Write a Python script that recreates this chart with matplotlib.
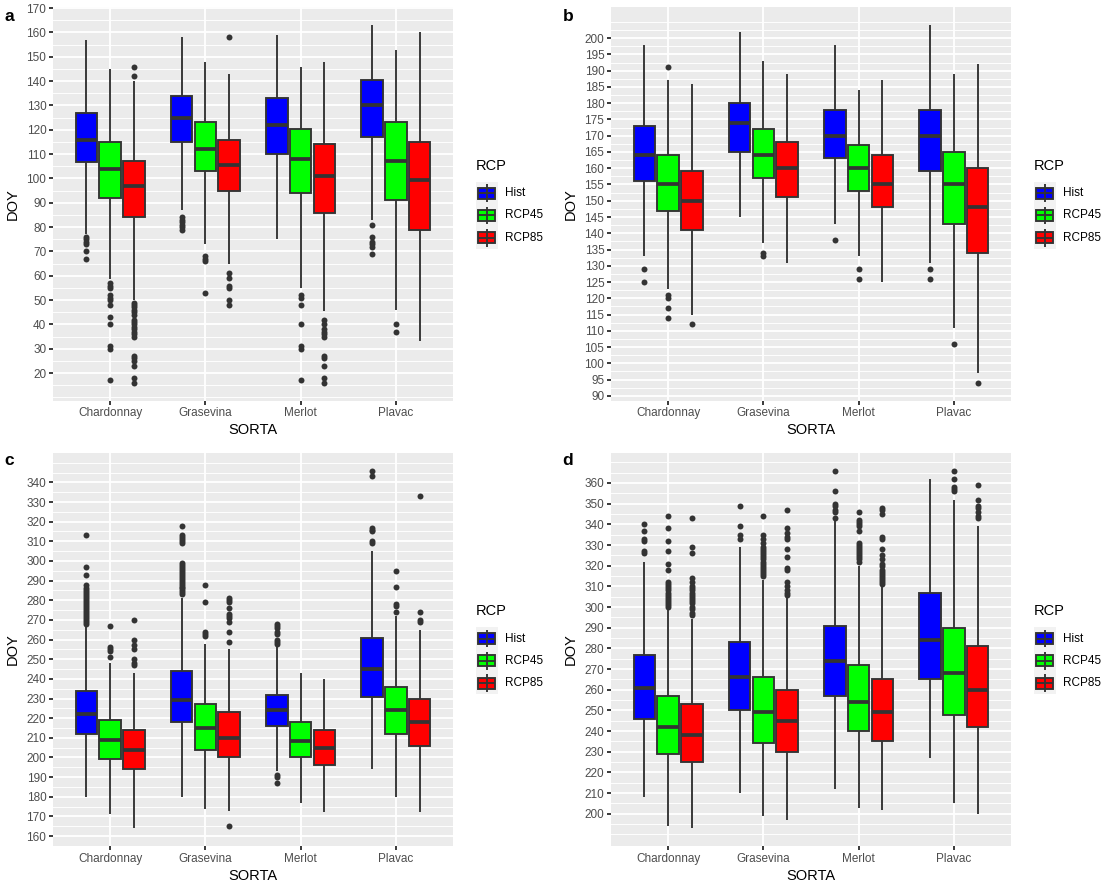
import numpy as np
import matplotlib
matplotlib.use('Agg')
import matplotlib.pyplot as plt
from matplotlib.patches import Rectangle

plt.rcParams['font.family'] = ['Liberation Sans', 'DejaVu Sans']

SORTS = ['Chardonnay', 'Grasevina', 'Merlot', 'Plavac']
RCPS = ['Hist', 'RCP45', 'RCP85']
COLORS = ['#0000FF', '#00FF00', '#FF0000']

# each list: one row per sort, columns Hist, RCP45, RCP85
# --- panel a
a_q1 = [[106.7, 92, 84], [115, 103, 95], [110, 94, 86], [117, 91, 79]]
a_med = [[116, 104, 97], [125, 112, 105.5], [122, 108, 101], [130, 107, 99.5]]
a_q3 = [[127, 115, 107], [134, 123, 116], [133, 120.3, 114], [140.3, 123, 115]]
a_lo = [[77, 58.5, 50], [87, 73, 65], [75, 55, 45.5], [83, 46, 33]]
a_hi = [[157, 145, 140], [158, 148, 143], [159, 146, 148], [163, 153, 160]]
a_out = [
    [[76, 75, 74, 73, 70, 67],
     [57, 56, 55, 52, 51, 50, 48, 43, 40, 31, 30, 17],
     [146, 142, 49, 48, 47, 46, 45, 44, 42, 41, 40, 39, 38, 37, 36, 35, 27, 26, 25, 23, 18, 16]],
    [[84, 83, 82, 81, 80, 79], [68, 67, 66, 53], [158, 61, 59, 56, 55, 50, 48]],
    [[], [52, 51, 48, 40, 31, 30, 17], [42, 40, 38, 37, 36, 35, 27, 26, 23, 18, 16]],
    [[81, 76, 74, 73, 72, 69], [40, 37], []],
]
a_ticks = list(range(20, 171, 10))

# --- panel b
b_q1 = [[156, 147, 141], [165, 157, 151], [163, 153, 148], [159, 143, 134]]
b_med = [[164, 155, 150], [174, 164, 160], [170, 160, 155], [170, 155, 148]]
b_q3 = [[173, 164, 159], [180, 172, 168], [178, 167, 164], [178, 165, 160]]
b_lo = [[133, 123, 115], [145, 137, 131], [143, 133, 125], [131, 111, 97]]
b_hi = [[198, 187, 186], [202, 193, 189], [198, 184, 187], [204, 189, 192]]
b_out = [
    [[129, 125], [191, 121, 120, 117, 114], [112]],
    [[], [134, 133], []],
    [[138], [129, 126], []],
    [[129, 126], [106], [94]],
]
b_ticks = list(range(90, 201, 5))

# --- panel c
c_q1 = [[212, 199, 194], [218, 204, 200], [216, 200, 196], [231, 212, 206]]
c_med = [[222, 209, 204], [229, 215, 210], [224, 208.5, 205], [245, 224, 218]]
c_q3 = [[234, 219, 214], [244, 227, 223], [232, 218, 214], [261, 236, 230]]
c_lo = [[180, 171, 164], [180, 174, 173], [193, 177, 172], [194, 180, 172]]
c_hi = [[267, 248, 243], [281, 258, 255], [256, 243, 240], [305, 272, 265]]
c_out = [
    [[313, 297, 293, 288, 286, 285, 284, 283, 282, 281, 280, 279, 278, 277, 276,
      275, 274, 273, 272, 271, 270, 269, 268],
     [267, 256, 255, 254, 251],
     [270, 260, 257, 255, 250, 248, 247]],
    [[318, 313, 312, 311, 310, 309, 299, 298, 297, 296, 295, 294, 293, 292, 291,
      290, 289, 288, 287, 286, 285, 284, 283],
     [288, 279, 264, 263, 262],
     [281, 280, 279, 276, 273, 272, 271, 269, 264, 259, 165]],
    [[268, 267, 266, 264, 263, 260, 259, 258, 191, 190, 187], [], []],
    [[346, 343, 317, 316, 315, 310, 309], [295, 287, 278, 277, 274], [333, 274, 270, 269]],
]
c_ticks = list(range(160, 341, 10))

# --- panel d
d_q1 = [[246, 229, 225], [250, 234, 230], [257, 240, 235], [265, 248, 242]]
d_med = [[261, 242, 238], [266, 249, 245], [274, 254, 249], [284, 268, 260]]
d_q3 = [[277, 257, 253], [283, 266, 260], [291, 272, 265], [307, 290, 281]]
d_lo = [[208, 194, 193], [210, 199, 197], [212, 203, 202], [227, 205, 200]]
d_hi = [[322, 299, 294], [329, 313, 305], [342, 320, 310], [362, 352, 339]]
d_out = [
    [[340, 337, 333, 332, 327, 326],
     [344, 338, 332, 327, 321, 318, 312, 311, 310, 309, 308, 307, 306, 305, 304,
      303, 302, 301, 300],
     [343, 329, 326, 314, 312, 310, 309, 308, 307, 306, 305, 304, 303, 302, 300,
      299, 297, 296]],
    [[349, 339, 335, 333],
     [344, 335, 333, 331, 329, 328, 327, 326, 325, 324, 323, 322, 321, 320, 319,
      318, 317, 316, 315],
     [347, 338, 336, 334, 333, 328, 324, 319, 318, 312, 310, 308, 307, 306]],
    [[366, 356, 350, 349, 347, 346, 343],
     [346, 342, 341, 340, 339, 337, 331, 330, 329, 328, 327, 326, 325, 324, 323, 322],
     [348, 347, 345, 334, 333, 328, 325, 323, 321, 320, 318, 317, 316, 315, 314,
      313, 312, 311]],
    [[], [366, 362, 358, 357, 356], [359, 352, 349, 348, 346, 344, 343]],
]
d_ticks = list(range(200, 361, 10))

panels = [
    ('a', a_q1, a_med, a_q3, a_lo, a_hi, a_out, a_ticks),
    ('b', b_q1, b_med, b_q3, b_lo, b_hi, b_out, b_ticks),
    ('c', c_q1, c_med, c_q3, c_lo, c_hi, c_out, c_ticks),
    ('d', d_q1, d_med, d_q3, d_lo, d_hi, d_out, d_ticks),
]

W, H = 1117, 889
fig = plt.figure(figsize=(W / 100, H / 100), dpi=100)
fig.patch.set_facecolor('white')

overlay = fig.add_axes([0, 0, 1, 1])
overlay.axis('off')

def px_rect(x0, y0, x1, y1):
    return [x0 / W, 1 - y1 / H, (x1 - x0) / W, (y1 - y0) / H]

DARK = '#333333'
LW = 1.36

for idx, (lab, q1, med, q3, lo, hi, out, ticks) in enumerate(panels):
    row, col = divmod(idx, 2)
    dx = col * 558
    dy = row * 445.4
    top, bottom = 7.3 + dy, 400.7 + dy
    ax = fig.add_axes(px_rect(53 + dx, top, 453 + dx, bottom))
    ax.set_facecolor('#EBEBEB')

    for r in range(3):
        stats = []
        for s in range(4):
            stats.append(dict(med=med[s][r], q1=q1[s][r], q3=q3[s][r],
                              whislo=lo[s][r], whishi=hi[s][r], fliers=out[s][r]))
        pos = [s + 1 + (r - 1) * 0.25 for s in range(4)]
        ax.bxp(stats, positions=pos, widths=0.225, patch_artist=True,
               showcaps=False, manage_ticks=False,
               boxprops=dict(facecolor=COLORS[r], edgecolor=DARK, linewidth=LW),
               medianprops=dict(color=DARK, linewidth=2.7, solid_capstyle='butt'),
               whiskerprops=dict(color=DARK, linewidth=LW, solid_capstyle='butt'),
               flierprops=dict(marker='o', markerfacecolor=DARK, markeredgecolor=DARK,
                               markeredgewidth=0, markersize=4.3, linestyle='none'))

    allv = [v for rr in lo for v in rr] + [v for rr in hi for v in rr]
    allv += [v for rr in out for cell in rr for v in cell]
    vmin, vmax = min(allv), max(allv)
    pad = 0.05 * (vmax - vmin)
    ax.set_ylim(vmin - pad, vmax + pad)
    ax.set_xlim(0.4, 4.6)

    ax.set_xticks([1, 2, 3, 4])
    ax.set_xticklabels(SORTS)
    ax.set_yticks(ticks)
    ax.set_yticklabels([str(t) for t in ticks])
    step = ticks[1] - ticks[0]
    minor = np.arange(ticks[0] - step, ticks[-1] + step + 0.01, step / 2)
    minor = [m for m in minor if vmin - pad <= m <= vmax + pad and m not in ticks]
    ax.set_yticks(minor, minor=True)

    for sp in ax.spines.values():
        sp.set_visible(False)
    ax.tick_params(axis='both', which='major', length=2.7, width=LW, color=DARK,
                   labelcolor='#4D4D4D', labelsize=8.45, pad=2.1)
    ax.tick_params(which='minor', length=0)
    ax.grid(which='major', color='white', linewidth=LW)
    ax.grid(which='minor', axis='y', color='white', linewidth=LW / 2)
    ax.set_axisbelow(True)

    ax.set_xlabel('SORTA', fontsize=10.56, color='black')
    ax.xaxis.set_label_coords(0.5, (400.7 - 430.5) / 393.4)
    ax.xaxis.label.set_va('center')
    ax.set_ylabel('DOY', fontsize=10.56, color='black')
    ax.yaxis.set_label_coords((13 - 53) / 400, 0.5)
    ax.yaxis.label.set_va('center')

    # legend
    key = 22.3
    kx0 = 475.5 + dx
    ky0 = 182 + dy
    overlay.text(475.7 + dx, 165.7 + dy, 'RCP', fontsize=10.56, va='center', ha='left')
    for k in range(3):
        y0 = ky0 + k * key
        overlay.add_patch(Rectangle((kx0, y0), key, key, facecolor='#F2F2F2',
                                    edgecolor='none'))
        cx = kx0 + key / 2
        overlay.plot([cx, cx], [y0 + 0.1 * key, y0 + 0.9 * key], color=DARK, lw=LW,
                     solid_capstyle='butt')
        overlay.add_patch(Rectangle((kx0 + 0.125 * key, y0 + 0.25 * key), 0.75 * key,
                                    0.5 * key, facecolor=COLORS[k], edgecolor=DARK, lw=LW))
        overlay.plot([kx0 + 0.125 * key, kx0 + 0.875 * key], [y0 + 0.5 * key] * 2,
                     color=DARK, lw=LW, solid_capstyle='butt')
        overlay.text(505.3 + dx, y0 + key / 2, RCPS[k], fontsize=8.45, va='center',
                     ha='left')

    # panel letter
    overlay.text(4.7 + dx, 20.7 + row * 444.5, lab, fontsize=12.5, fontweight='bold',
                 va='baseline', ha='left')

overlay.set_xlim(0, W)
overlay.set_ylim(H, 0)

fig.savefig('out.png', dpi=100)
